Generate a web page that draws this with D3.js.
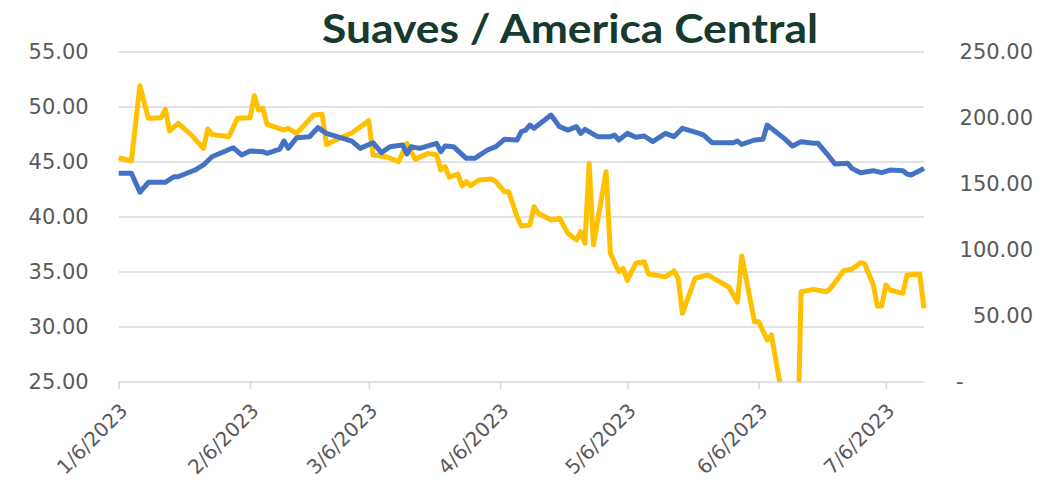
<!DOCTYPE html>
<html><head><meta charset="utf-8">
<script src="https://cdn.jsdelivr.net/npm/d3@7"></script>
<style>html,body{margin:0;padding:0;background:#fff;}svg{display:block;}</style>
</head><body>
<svg id="chart" width="1046" height="487"></svg>
<script>
const title = "Suaves / America Central";
const leftTicks = [25, 30, 35, 40, 45, 50, 55];
const rightTicks = [0, 50, 100, 150, 200, 250];
const xTickDates = ["2023-01-06","2023-02-06","2023-03-06","2023-04-06","2023-05-06","2023-06-06","2023-07-06"];
const xTickLabels = ["1/6/2023","2/6/2023","3/6/2023","4/6/2023","5/6/2023","6/6/2023","7/6/2023"];

const blueDates = ["2023-01-06","2023-01-09","2023-01-11","2023-01-13","2023-01-17","2023-01-19","2023-01-20","2023-01-24","2023-01-26","2023-01-28","2023-02-02","2023-02-04","2023-02-06","2023-02-09","2023-02-10","2023-02-13","2023-02-14","2023-02-15","2023-02-17","2023-02-20","2023-02-22","2023-02-24","2023-03-02","2023-03-04","2023-03-07","2023-03-09","2023-03-11","2023-03-14","2023-03-15","2023-03-16","2023-03-18","2023-03-22","2023-03-23","2023-03-24","2023-03-26","2023-03-29","2023-03-31","2023-04-03","2023-04-05","2023-04-07","2023-04-10","2023-04-11","2023-04-12","2023-04-13","2023-04-14","2023-04-18","2023-04-20","2023-04-22","2023-04-24","2023-04-25","2023-04-26","2023-04-29","2023-05-02","2023-05-03","2023-05-04","2023-05-06","2023-05-08","2023-05-10","2023-05-12","2023-05-15","2023-05-17","2023-05-19","2023-05-23","2023-05-24","2023-05-26","2023-05-31","2023-06-01","2023-06-02","2023-06-05","2023-06-07","2023-06-08","2023-06-12","2023-06-14","2023-06-16","2023-06-19","2023-06-20","2023-06-22","2023-06-24","2023-06-27","2023-06-28","2023-06-30","2023-07-03","2023-07-05","2023-07-07","2023-07-10","2023-07-11","2023-07-12","2023-07-13","2023-07-15"];
const blueValues = [43.97,43.97,42.25,43.15,43.15,43.66,43.66,44.27,44.73,45.48,46.3,45.64,46.0,45.94,45.79,46.18,46.91,46.24,47.21,47.3,48.12,47.6,46.9,46.24,46.75,45.85,46.39,46.55,45.73,46.39,46.24,46.7,45.94,46.45,46.39,45.33,45.33,46.09,46.4,47.06,47.0,47.76,47.9,48.36,48.06,49.27,48.21,47.9,48.21,47.6,47.97,47.3,47.3,47.45,47.0,47.6,47.25,47.36,46.85,47.6,47.3,48.06,47.6,47.45,46.76,46.76,46.9,46.6,47.0,47.06,48.36,47.15,46.45,46.85,46.7,46.7,45.79,44.82,44.88,44.42,44.03,44.21,44.03,44.27,44.21,43.91,43.82,44.03,44.42];

const yellowDates = ["2023-01-06","2023-01-09","2023-01-11","2023-01-13","2023-01-16","2023-01-17","2023-01-18","2023-01-20","2023-01-23","2023-01-26","2023-01-27","2023-01-28","2023-02-01","2023-02-03","2023-02-06","2023-02-07","2023-02-08","2023-02-09","2023-02-10","2023-02-14","2023-02-15","2023-02-17","2023-02-21","2023-02-23","2023-02-24","2023-02-28","2023-03-02","2023-03-06","2023-03-07","2023-03-10","2023-03-11","2023-03-13","2023-03-15","2023-03-17","2023-03-20","2023-03-22","2023-03-23","2023-03-24","2023-03-25","2023-03-27","2023-03-28","2023-03-29","2023-03-30","2023-04-01","2023-04-04","2023-04-05","2023-04-07","2023-04-08","2023-04-10","2023-04-11","2023-04-13","2023-04-14","2023-04-15","2023-04-18","2023-04-20","2023-04-22","2023-04-24","2023-04-25","2023-04-26","2023-04-27","2023-04-28","2023-05-01","2023-05-02","2023-05-04","2023-05-05","2023-05-06","2023-05-08","2023-05-10","2023-05-11","2023-05-15","2023-05-17","2023-05-18","2023-05-19","2023-05-22","2023-05-25","2023-05-27","2023-05-30","2023-06-01","2023-06-02","2023-06-05","2023-06-06","2023-06-08","2023-06-09","2023-06-15","2023-06-16","2023-06-19","2023-06-22","2023-06-23","2023-06-26","2023-06-28","2023-06-30","2023-07-01","2023-07-03","2023-07-04","2023-07-05","2023-07-06","2023-07-07","2023-07-10","2023-07-11","2023-07-14","2023-07-15"];
const yellowValues = [169.9,167.4,224.5,199.8,200.2,206.6,190.2,196.0,187.6,177.0,191.7,187.6,185.8,199.8,200.2,216.9,206.0,207.4,195.2,190.9,192.2,188.4,202.3,202.8,180.0,186.0,188.6,198.0,172.0,170.7,169.5,166.9,180.8,168.7,173.2,172.0,160.6,163.1,155.1,157.6,148.5,151.8,148.7,153.0,153.8,151.8,144.2,144.2,125.2,118.2,118.9,132.8,127.8,122.7,124.0,112.6,107.6,113.9,105.1,165.7,104.0,159.3,97.5,83.6,86.1,77.0,89.9,91.1,81.8,79.8,84.1,78.6,52.0,78.6,81.1,77.3,71.8,60.5,95.5,45.7,45.7,31.8,35.6,-73.0,68.4,70.2,68.4,71.0,84.3,85.4,90.4,89.4,74.0,57.6,57.6,73.5,69.7,67.2,81.1,81.6,55.8];

const parse = d3.timeParse("%Y-%m-%d");
const blue = blueDates.map((d, i) => ({date: parse(d), value: blueValues[i]}));
const yellow = yellowDates.map((d, i) => ({date: parse(d), value: yellowValues[i]}));

const L = 118.7, R = 924, T = 52, B = 382;
const svg = d3.select("#chart");

const x = d3.scaleTime().domain([parse("2023-01-06"), parse("2023-07-15")]).range([L, R]);
const yL = d3.scaleLinear().domain([25, 55]).range([B, T]);
const yR = d3.scaleLinear().domain([0, 250]).range([B, T]);

// gridlines
svg.append("g").selectAll("line").data(leftTicks.filter(v => v !== 25)).join("line")
  .attr("x1", L).attr("x2", R).attr("y1", d => yL(d)).attr("y2", d => yL(d))
  .attr("stroke", "#d9d9d9").attr("stroke-width", 1.5);

// x axis
const xAxis = d3.axisBottom(x).tickValues(xTickDates.map(parse)).tickSize(7).tickFormat("");
const gx = svg.append("g").attr("transform", `translate(0,${B})`).call(xAxis);
gx.select(".domain").attr("stroke", "#d9d9d9").attr("stroke-width", 1.5).attr("d", `M${L},0.5V0H${R}`);
gx.selectAll(".tick line").attr("stroke", "#d9d9d9").attr("stroke-width", 1.5);

svg.append("g").selectAll("text").data(xTickDates).join("text")
  .attr("transform", d => `translate(${x(parse(d)) + 5},${B + 25}) rotate(-45)`)
  .attr("text-anchor", "end").attr("dy", "0.35em")
  .attr("font-family", "DejaVu Sans, sans-serif").attr("font-size", 20)
  .attr("fill", "#595959")
  .text((d, i) => xTickLabels[i]);

// left axis
const gyL = svg.append("g").attr("transform", `translate(${L},0)`)
  .call(d3.axisLeft(yL).tickValues(leftTicks).tickSize(0).tickPadding(30).tickFormat(d3.format(".2f")));
gyL.select(".domain").remove();
gyL.selectAll("text").attr("font-family", "DejaVu Sans, sans-serif").attr("font-size", 21).attr("fill", "#595959");

// right axis
const gyR = svg.append("g").attr("transform", `translate(${R},0)`)
  .call(d3.axisRight(yR).tickValues(rightTicks).tickSize(0).tickPadding(109).tickFormat(d => d === 0 ? "-" : d3.format(".2f")(d)));
gyR.select(".domain").remove();
gyR.selectAll("text").attr("text-anchor", "end").attr("font-family", "DejaVu Sans, sans-serif").attr("font-size", 21).attr("fill", "#595959");
gyR.selectAll(".tick").filter(d => d === 0).select("text").attr("text-anchor", "start").attr("x", 32);

// clip
svg.append("clipPath").attr("id", "plotclip").append("rect")
  .attr("x", 0).attr("y", 0).attr("width", 1046).attr("height", B);

const lineL = d3.line().x(d => x(d.date)).y(d => yL(d.value));
const lineR = d3.line().x(d => x(d.date)).y(d => yR(d.value));

const gLines = svg.append("g").attr("clip-path", "url(#plotclip)");
gLines.append("path").datum(yellow).attr("d", lineR).attr("fill", "none")
  .attr("stroke", "#FFC000").attr("stroke-width", 5).attr("stroke-linejoin", "round");
gLines.append("path").datum(blue).attr("d", lineL).attr("fill", "none")
  .attr("stroke", "#4472C4").attr("stroke-width", 5).attr("stroke-linejoin", "round");

// title
svg.append("text").attr("x", 570).attr("y", 43).attr("text-anchor", "middle")
  .attr("font-family", "Lato, 'Open Sans', sans-serif").attr("font-weight", "bold")
  .attr("font-size", 41).attr("fill", "#173a2e")
  .attr("textLength", 496).attr("lengthAdjust", "spacingAndGlyphs")
  .text(title);
</script>
</body></html>
